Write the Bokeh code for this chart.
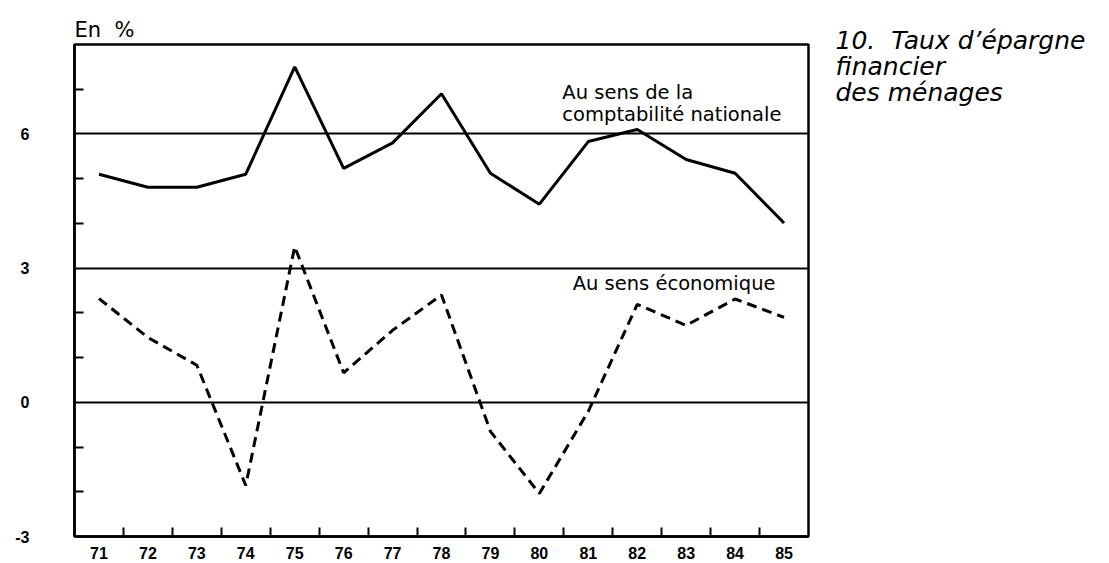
from bokeh.plotting import figure
from bokeh.models import FixedTicker, Label, ColumnDataSource, Title, Range1d, Plot
from bokeh.layouts import row
from bokeh.embed import file_html
from bokeh.resources import INLINE

years = [71, 72, 73, 74, 75, 76, 77, 78, 79, 80, 81, 82, 83, 84, 85]
compta_nationale = [5.10, 4.81, 4.81, 5.10, 7.50, 5.23, 5.80, 6.90, 5.12, 4.43, 5.83, 6.10, 5.43, 5.12, 4.01]
sens_economique = [2.32, 1.45, 0.83, -1.86, 3.48, 0.66, 1.61, 2.40, -0.65, -2.04, -0.20, 2.19, 1.72, 2.31, 1.90]
y_major = [-3, 0, 3, 6]
y_minor = [-2, -1, 1, 2, 4, 5, 7]
title_lines = ["10.\u00a0\u00a0Taux d’épargne", "financier", "des ménages"]

src = ColumnDataSource(dict(x=years, a=compta_nationale, b=sens_economique))

FONT = "DejaVu Sans"

p = figure(frame_width=734, frame_height=492,
           min_border_left=74, min_border_top=44, min_border_right=10, min_border_bottom=25,
           x_range=(70.5, 85.5), y_range=(-3, 8),
           output_backend="svg", toolbar_location=None)
p.background_fill_color = "white"
p.border_fill_color = "white"
p.outline_line_color = "black"
p.outline_line_width = 2.5

p.add_layout(Title(text="En\u00a0\u00a0%", align="left", text_font=FONT, text_font_size="21px",
                   text_font_style="normal", text_color="black", standoff=6), "above")

# axes
p.xaxis.ticker = FixedTicker(ticks=years, minor_ticks=[y + 0.5 for y in years[:-1]])
p.yaxis.ticker = FixedTicker(ticks=y_major, minor_ticks=y_minor)
p.yaxis.major_label_overrides = {v: str(v) for v in y_major}
for ax in (p.xaxis, p.yaxis):
    ax.axis_line_color = "black"
    ax.axis_line_width = 2.5
    ax.major_tick_in = 0
    ax.major_tick_out = 0
    ax.minor_tick_in = 9
    ax.minor_tick_out = 0
    ax.minor_tick_line_color = "black"
    ax.minor_tick_line_width = 2
    ax.major_label_text_font = "Liberation Sans"
    ax.major_label_text_font_style = "bold"
    ax.major_label_text_font_size = "16px"
    ax.major_label_text_color = "black"
p.xaxis.major_label_standoff = 10
p.yaxis.major_label_standoff = 45

p.xgrid.visible = False
p.ygrid.grid_line_color = "black"
p.ygrid.grid_line_width = 1.8
p.ygrid.grid_line_alpha = 1.0

p.line("x", "a", source=src, line_color="black", line_width=3)
p.line("x", "b", source=src, line_color="black", line_width=3, line_dash="10 6")

def lab(fig, text, x, y, xo=0, yo=0, size="19.5px", style="normal", baseline="alphabetic"):
    fig.add_layout(Label(x=x, y=y, x_offset=xo, y_offset=yo, text=text,
                         text_font=FONT, text_font_size=size, text_font_style=style,
                         text_color="black", text_baseline=baseline, text_align="left"))

lab(p, "Au sens de la", 80.47, 6, yo=41)
lab(p, "comptabilité nationale", 80.47, 6, yo=19)
lab(p, "Au sens économique", 80.68, 3, yo=-15)

# right-hand title panel
t = figure(width=285, height=563, x_range=Range1d(0, 285), y_range=Range1d(563, 0),
           x_axis_type=None, y_axis_type=None,
           min_border=0, output_backend="svg", toolbar_location=None)
t.grid.visible = False
t.outline_line_color = None
t.background_fill_color = "white"
t.border_fill_color = "white"
if "frame_align" in Plot.properties():
    t.frame_align = False
    p.frame_align = False
for i, line in enumerate(title_lines):
    lab(t, line, 17, 40 + 26 * i, size="25px", style="italic", baseline="middle")

layout = row(p, t)
open("out.html", "w").write(file_html(layout, INLINE))
